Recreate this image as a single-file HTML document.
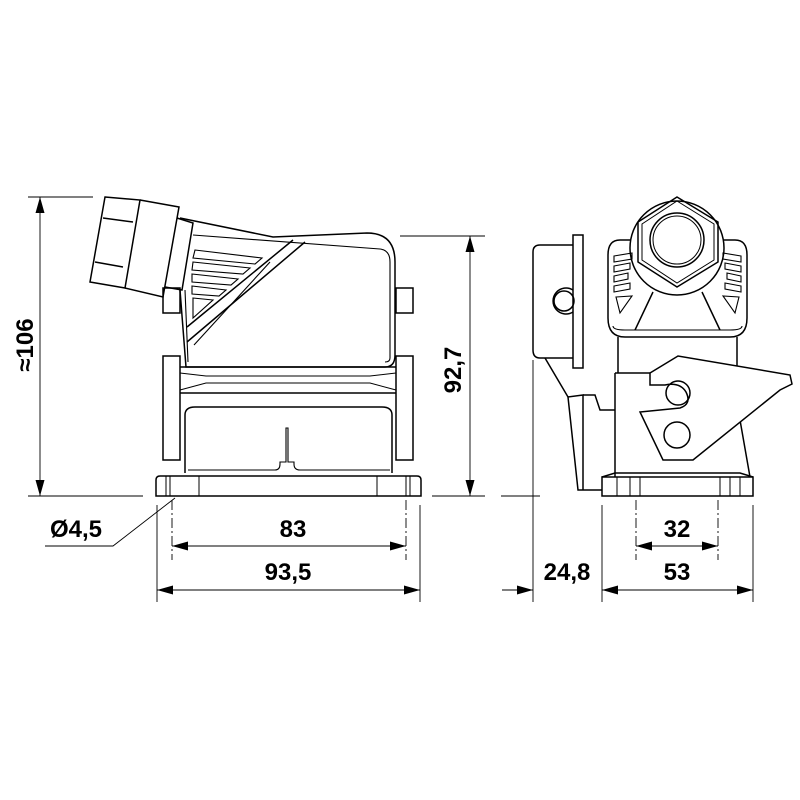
<!DOCTYPE html>
<html><head><meta charset="utf-8"><style>
html,body{margin:0;padding:0;background:#fff}
svg{display:block}
text{font-family:"Liberation Sans Narrow","Liberation Sans",sans-serif;font-weight:bold;fill:#000}
</style></head><body>
<svg width="800" height="800" viewBox="0 0 800 800" xmlns="http://www.w3.org/2000/svg">
<defs>
<marker id="a" viewBox="0 0 16 9" refX="16" refY="4.5" markerWidth="16" markerHeight="9" orient="auto-start-reverse" markerUnits="userSpaceOnUse"><path d="M0,0L16,4.5L0,9z" fill="#000"/></marker>
</defs>
<g fill="none" stroke="#000" stroke-width="1.5">
<g stroke-width="0.9">
<line x1="28" y1="197" x2="93" y2="197"/>
<line x1="28" y1="496" x2="143" y2="496"/>
<line x1="40" y1="197" x2="40" y2="496" marker-start="url(#a)" marker-end="url(#a)"/>
<line x1="400" y1="236" x2="485" y2="236"/>
<line x1="432" y1="496" x2="485" y2="496"/>
<line x1="470" y1="236" x2="470" y2="496" marker-start="url(#a)" marker-end="url(#a)"/>
<line x1="501" y1="496" x2="540" y2="496"/>
<line x1="172" y1="500" x2="172" y2="560" stroke-dasharray="10,3,2,3"/>
<line x1="406" y1="500" x2="406" y2="560" stroke-dasharray="10,3,2,3"/>
<line x1="157" y1="505" x2="157" y2="602"/>
<line x1="420" y1="505" x2="420" y2="602"/>
<line x1="172" y1="546" x2="406" y2="546" marker-start="url(#a)" marker-end="url(#a)"/>
<line x1="157" y1="590" x2="420" y2="590" marker-start="url(#a)" marker-end="url(#a)"/>
<polyline points="175,498 113,546 45,546"/>
<line x1="533" y1="360" x2="533" y2="602"/>
<line x1="602" y1="505" x2="602" y2="602"/>
<line x1="753" y1="505" x2="753" y2="602"/>
<line x1="636" y1="500" x2="636" y2="560" stroke-dasharray="10,3,2,3"/>
<line x1="718" y1="500" x2="718" y2="560" stroke-dasharray="10,3,2,3"/>
<line x1="636" y1="546" x2="718" y2="546" marker-start="url(#a)" marker-end="url(#a)"/>
<line x1="502" y1="590" x2="533" y2="590" marker-end="url(#a)"/>
<line x1="602" y1="590" x2="753" y2="590" marker-start="url(#a)" marker-end="url(#a)"/>
</g>

<!-- LEFT VIEW -->
<path d="M156,496 L156,480 Q156,476 160,476 L417,476 Q421,476 421,480 L421,496 Z"/>
<g stroke-width="1"><line x1="166" y1="476" x2="166" y2="496"/><line x1="170" y1="476" x2="170" y2="496"/><line x1="199" y1="476" x2="199" y2="496"/>
<line x1="377" y1="476" x2="377" y2="496"/><line x1="406" y1="476" x2="406" y2="496"/><line x1="410" y1="476" x2="410" y2="496"/></g>
<rect x="163" y="356" width="17" height="104"/>
<rect x="396" y="356" width="17" height="104"/>
<path d="M180,367 L396,367 M180,393 L396,393"/>
<path d="M180,373 L206,376 L370,376 L396,373 M180,390 L206,383 L370,383 L396,390" stroke-width="1"/>
<path d="M185,460 L185,415 Q185,407 195,407 L382,407 Q392,407 392,415 L392,460"/>
<path d="M185,460 L185,473 M392,460 L392,473"/>
<path d="M188,470 L275,470 Q280,470 280,464 L280,462 L286,462 L286,428 L288,428 L288,462 L294,462 L294,464 Q294,470 300,470 L390,470" stroke-width="1.1"/>
<!-- hood -->
<path d="M180,218 L273,237 L367,233 Q395,233 395,262 L395,355 Q395,367 385,367 L186,367 L180,290"/>
<path d="M193,235 L380,249 Q390,250 390,262 L390,358 Q390,362 385,362" stroke-width="1.1"/>
<path d="M185,290 L188,362" stroke-width="1.1"/>
<rect x="163" y="288" width="17" height="25"/>
<rect x="396" y="288" width="17" height="25"/>
<path d="M293,240 L187,327 M305,242 L187,342"/>
<path d="M194,345 L270,262" stroke-width="1.1"/>
<g stroke-width="1.1">
<path d="M195,250 L262,258 L255,264 L193,258 Z"/>
<path d="M193,262 L250,268 L243,274 L192,270 Z"/>
<path d="M192,274 L238,279 L231,285 L192,282 Z"/>
<path d="M192,286 L226,290 L219,296 L192,294 Z"/>
<path d="M193,298 L213,300 L193,318 Z"/>
</g>
<path d="M105,197 L140,200 L125,288 L90,282 Z"/>
<path d="M103,218 L133,222 M95,262 L123,267"/>
<path d="M140,200 L179,207 L163,297 L125,288"/>
<path d="M177,218 L193,223 L182,290 L165,287"/>
</g>

<!-- RIGHT VIEW -->
<g fill="none" stroke="#000" stroke-width="1.5">
<path d="M573,245 L540,245 Q533,245 533,252 L533,350 Q533,358 540,358 L573,358"/>
<rect x="573" y="235" width="10" height="133"/>
<path d="M573,290 A13,13 0 1 0 573,312"/>
<circle cx="564" cy="301" r="10"/>
<path d="M545,358 L568,397 L583,395 L583,490"/>
<path d="M568,397 L578,490 L602,490"/>
<path d="M583,395 L595,395 L600,410 L615,410"/>
<path d="M630,240 L620,240 Q608,240 608,255 L608,318 Q608,337 625,337 L730,337 Q747,337 747,318 L747,255 Q747,240 735,240 L724,240"/>
<path d="M613,326 Q613,330 625,330 L730,330 Q742,330 742,326" stroke-width="1.1"/>
<circle cx="677" cy="248" r="47" fill="#fff"/>
<polygon points="677,197 718,222 718,262 677,287 638,262 638,222"/>
<polygon points="677,201 714,224 714,260 677,283 642,260 642,224" stroke-width="1"/>
<circle cx="677" cy="240" r="27"/>
<circle cx="677" cy="240" r="24" stroke-width="1"/>
<path d="M653,292 L635,330 M702,292 L720,330"/>
<path stroke-width="1.1" d="M614,256 L632,253 L632,259 L614,262 Z M614,266 L630,263 L630,269 L614,272 Z M614,276 L628,273 L628,279 L614,282 Z M614,286 L630,283 L630,289 L614,292 Z M616,297 L632,296 L620,313 Z"/>
<path stroke-width="1.1" d="M741,256 L723,253 L723,259 L741,262 Z M741,266 L725,263 L725,269 L741,272 Z M741,276 L727,273 L727,279 L741,282 Z M741,286 L725,283 L725,289 L741,292 Z M739,297 L723,296 L735,313 Z"/>
<path d="M618,337 L618,373 M737,337 L737,373"/>
<path d="M615,373 L650,373 M615,373 L615,477 M740,420 L750,477"/>
<path d="M602,477 L753,477 L753,496 L602,496 Z"/>
<path d="M602,477 L615,473 L740,473 L753,477"/>
<g stroke-width="1"><line x1="617" y1="477" x2="617" y2="496"/><line x1="630" y1="477" x2="630" y2="496"/>
<line x1="640" y1="477" x2="640" y2="496"/><line x1="720" y1="477" x2="720" y2="496"/>
<line x1="730" y1="477" x2="730" y2="496"/><line x1="740" y1="477" x2="740" y2="496"/></g>
<path d="M650,373 L678,356 L790,375 L792,384 L780,390 L693,460 L663,460 L640,412 L680,408 Q692,404 686,392 Q680,382 665,385 L650,385 Z" fill="#fff"/>
<circle cx="678" cy="393" r="12"/>
<circle cx="677" cy="435" r="13"/>
</g>

<text x="0" y="0" font-size="24" text-anchor="middle" transform="translate(33,345) rotate(-90)">≈106</text>
<text x="0" y="0" font-size="24" text-anchor="middle" transform="translate(461,370) rotate(-90)">92,7</text>
<text x="293" y="537" font-size="24" text-anchor="middle">83</text>
<text x="288" y="580" font-size="24" text-anchor="middle">93,5</text>
<text x="76" y="537" font-size="24" text-anchor="middle">Ø4,5</text>
<text x="677" y="537" font-size="24" text-anchor="middle">32</text>
<text x="567" y="580" font-size="24" text-anchor="middle">24,8</text>
<text x="677" y="580" font-size="24" text-anchor="middle">53</text>
</svg>
</body></html>
